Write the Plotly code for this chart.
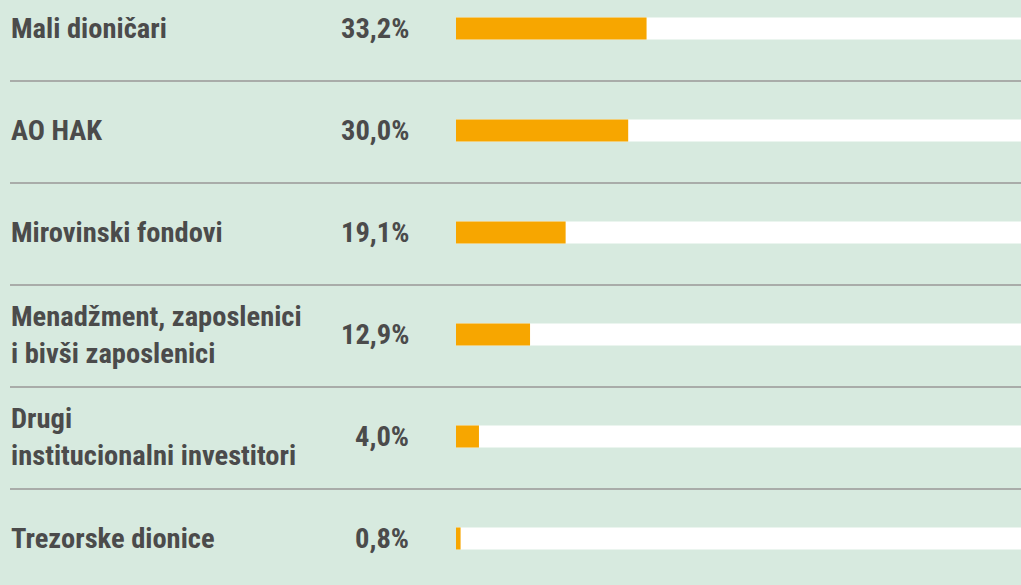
import plotly.graph_objects as go

categories = [
    "Mali dioničari",
    "AO HAK",
    "Mirovinski fondovi",
    "Menadžment, zaposlenici<br>i bivši zaposlenici",
    "Drugi<br>institucionalni investitori",
    "Trezorske dionice",
]
values = [33.2, 30.0, 19.1, 12.9, 4.0, 0.8]
track_total = 100

W, H = 1021, 585
FONT = "Roboto Condensed, Liberation Sans Narrow, Arial Narrow, DejaVu Sans Condensed, Roboto, sans-serif"
TXT = "#4b4b4b"
ORANGE = "#f7a600"
FS = 28.5

idx = list(range(len(categories)))

fig = go.Figure()
fig.add_trace(go.Bar(
    x=[track_total] * len(values), y=idx, orientation="h",
    marker=dict(color="white", line=dict(width=0)), width=0.216,
    hoverinfo="skip", showlegend=False,
))
fig.add_trace(go.Bar(
    x=values, y=idx, orientation="h",
    marker=dict(color=ORANGE, line=dict(width=0)), width=0.216,
    showlegend=False,
))
fig.update_layout(barmode="overlay")

annotations = []
for i, (c, v) in enumerate(zip(categories, values)):
    annotations.append(dict(
        x=9 / W, xref="paper", y=i, yref="y", text=c, showarrow=False,
        xanchor="left", yanchor="middle", align="left",
        font=dict(family=FONT, size=FS, color=TXT, weight="bold"),
    ))
    annotations.append(dict(
        x=411 / W, xref="paper", y=i, yref="y",
        text=f"{v:.1f}".replace(".", ",") + "%", showarrow=False,
        xanchor="right", yanchor="middle", align="right",
        font=dict(family=FONT, size=FS, color=TXT, weight="bold"),
    ))

shapes = []
for i in range(len(categories) - 1):
    shapes.append(dict(
        type="line", xref="paper", yref="y", x0=10 / W, x1=1,
        y0=i + 0.515, y1=i + 0.515,
        line=dict(color="#a9aca9", width=2), layer="below",
    ))

scale = 5.74
fig.update_layout(
    width=W, height=H,
    margin=dict(l=0, r=0, t=0, b=0),
    paper_bgcolor="#d7eadf",
    plot_bgcolor="rgba(0,0,0,0)",
    xaxis=dict(domain=[456 / W, 1], range=[0, (W - 456) / scale],
               showgrid=False, zeroline=False, showticklabels=False, fixedrange=True),
    yaxis=dict(range=[(H - 28.5) / 102, -28.5 / 102], showgrid=False,
               zeroline=False, showticklabels=False, fixedrange=True),
    annotations=annotations,
    shapes=shapes,
)

fig.write_html(
    "out.html",
    config={"displayModeBar": False},
    post_script="document.body.style.margin='0';document.body.style.overflow='hidden';",
)
